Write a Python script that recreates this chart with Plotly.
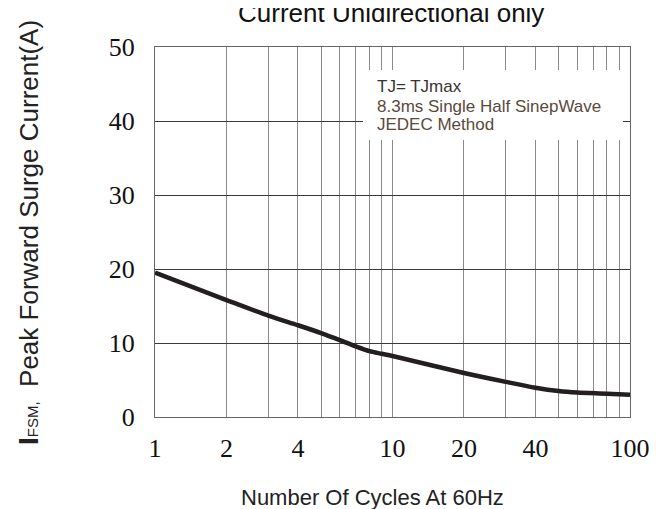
import plotly.graph_objects as go

# Data
cycles = [1, 2, 3, 4, 5, 6, 7, 8, 9, 10, 20, 30, 40, 50, 60, 80, 100]
ifsm = [19.5, 15.8, 13.7, 12.4, 11.35, 10.4, 9.55, 8.9, 8.55, 8.25, 5.95, 4.75, 3.95, 3.5, 3.3, 3.15, 3.0]

x_tickvals = [1, 2, 3, 4, 5, 6, 7, 8, 9, 10, 20, 30, 40, 50, 60, 70, 80, 90, 100]
x_ticktext = ["1", "2", "", "4", "", "", "", "", "", "10", "20", "", "40", "", "", "", "", "", "100"]
y_tickvals = [0, 10, 20, 30, 40, 50]
y_ticktext = ["0", "10", "20", "30", "40", "50"]

title_text = "Current Unidirectional only"
x_title = "Number Of Cycles At 60Hz"
y_title = ("<span style='font-size:28px'><b>I</b></span><span style='font-size:15px'>FSM,</span>"
           "  Peak Forward Surge Current(A)")
note_lines = ["TJ= TJmax", "8.3ms Single Half SinepWave", "JEDEC Method"]

fig = go.Figure()
fig.add_trace(go.Scatter(
    x=cycles, y=ifsm, mode="lines",
    line=dict(color="#231f20", width=4.5, shape="spline", smoothing=0.8),
    showlegend=False, hoverinfo="skip"))

W, H = 661, 509
L, R, T, B = 147, 39, 39, 100
pw, ph = W - L - R, H - T - B

def px_to_paper_x(px):
    return (px - L) / pw

def px_to_paper_y(py):
    return (H - B - py) / ph

serif = "Liberation Serif, Times New Roman, serif"
sans = "Arial, Liberation Sans, sans-serif"

fig.update_layout(
    width=W, height=H,
    margin=dict(l=L, r=R, t=T, b=B),
    paper_bgcolor="white", plot_bgcolor="white",
    font=dict(family=sans, color="#222"),
    xaxis=dict(
        type="log", range=[0, 2],
        tickmode="array", tickvals=x_tickvals, ticktext=x_ticktext,
        showgrid=True, gridcolor="#8a8a8a", gridwidth=1.2,
        showline=True, linecolor="#666", linewidth=1.2, mirror=True,
        ticks="", ticklabelstandoff=8,
        tickfont=dict(family=serif, size=26, color="#111"),
        zeroline=False, fixedrange=True,
    ),
    yaxis=dict(
        range=[0, 50],
        tickmode="array", tickvals=y_tickvals, ticktext=y_ticktext,
        showgrid=True, gridcolor="#3a3a3a", gridwidth=1,
        showline=True, linecolor="#666", linewidth=1.2, mirror=True,
        ticks="", ticklabelstandoff=14,
        tickfont=dict(family=serif, size=26, color="#111"),
        zeroline=False, fixedrange=True,
    ),
)

# white box for note
fig.add_shape(type="rect", xref="paper", yref="paper",
              x0=px_to_paper_x(355), x1=px_to_paper_x(615),
              y0=px_to_paper_y(132), y1=px_to_paper_y(62),
              fillcolor="white", line=dict(width=0), layer="above")

note_y = [78, 98, 117]
note_colors = ["#3a3430", "#5a4a3c", "#5a4a3c"]
for txt, yy, col in zip(note_lines, note_y, note_colors):
    fig.add_annotation(xref="paper", yref="paper",
                       x=px_to_paper_x(367), y=px_to_paper_y(yy),
                       xanchor="left", yanchor="middle", showarrow=False,
                       text=txt, font=dict(family=sans, size=17, color=col))

# title (partly cut at the top, as in the reference)
fig.add_annotation(xref="paper", yref="paper",
                   x=px_to_paper_x(383), y=px_to_paper_y(5),
                   xanchor="center", yanchor="middle", showarrow=False,
                   text=title_text, font=dict(family=sans, size=26, color="#111"))

# x axis title
fig.add_annotation(xref="paper", yref="paper",
                   x=px_to_paper_x(364), y=px_to_paper_y(489),
                   xanchor="center", yanchor="middle", showarrow=False,
                   text=x_title, font=dict(family=sans, size=22, color="#222"))

# y axis title
fig.add_annotation(xref="paper", yref="paper",
                   x=px_to_paper_x(20), y=px_to_paper_y(225),
                   xanchor="center", yanchor="middle", showarrow=False, textangle=-90,
                   text=y_title, font=dict(family=sans, size=26, color="#222"))

fig.write_html("out.html")
